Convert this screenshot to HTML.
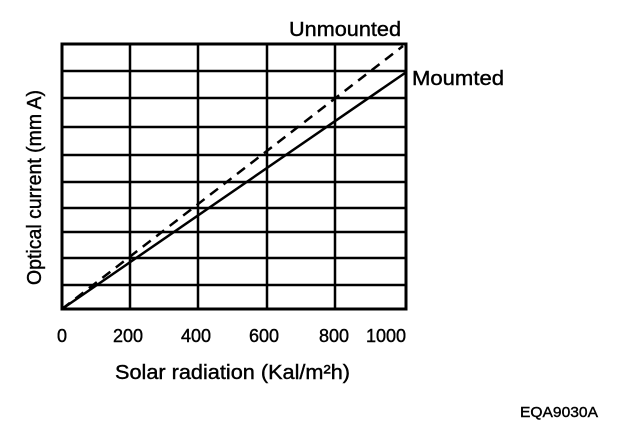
<!DOCTYPE html><html><head><style>body{margin:0;background:#fff}svg text{font-family:"Liberation Sans",Arial,sans-serif;fill:#000;stroke:#000;stroke-width:0.4}</style></head><body>
<svg width="624" height="426" xmlns="http://www.w3.org/2000/svg">
<rect x="62" y="44" width="344" height="265" fill="none" stroke="#000" stroke-width="3"/>
<g stroke="#000" stroke-width="2.5">
<line x1="130" y1="44" x2="130" y2="309"/><line x1="198" y1="44" x2="198" y2="309"/><line x1="267" y1="44" x2="267" y2="309"/><line x1="335" y1="44" x2="335" y2="309"/>
<line x1="62" y1="71" x2="406" y2="71"/><line x1="62" y1="98" x2="406" y2="98"/><line x1="62" y1="127" x2="406" y2="127"/><line x1="62" y1="155" x2="406" y2="155"/><line x1="62" y1="182" x2="406" y2="182"/><line x1="62" y1="208" x2="406" y2="208"/><line x1="62" y1="232" x2="406" y2="232"/><line x1="62" y1="258" x2="406" y2="258"/><line x1="62" y1="285" x2="406" y2="285"/>
</g>
<line x1="62" y1="309" x2="403" y2="46" stroke="#000" stroke-width="2.5" stroke-dasharray="10,7"/>
<line x1="62" y1="309" x2="405" y2="73" stroke="#000" stroke-width="2.5"/>
<text x="289" y="36" font-size="20" textLength="112" lengthAdjust="spacingAndGlyphs">Unmounted</text>
<text x="412" y="85" font-size="20" textLength="92" lengthAdjust="spacingAndGlyphs">Moumted</text>
<g font-size="18" text-anchor="middle">
<text x="62" y="342">0</text><text x="128" y="342">200</text><text x="196" y="342">400</text><text x="264" y="342">600</text><text x="334" y="342">800</text><text x="386" y="342">1000</text>
</g>
<text x="115" y="379" font-size="20" textLength="235" lengthAdjust="spacingAndGlyphs">Solar radiation (Kal/m²h)</text>
<text transform="translate(41,285) rotate(-90)" font-size="20" textLength="195" lengthAdjust="spacingAndGlyphs">Optical current (mm A)</text>
<text x="520" y="417" font-size="15" textLength="78" lengthAdjust="spacingAndGlyphs">EQA9030A</text>
</svg></body></html>
